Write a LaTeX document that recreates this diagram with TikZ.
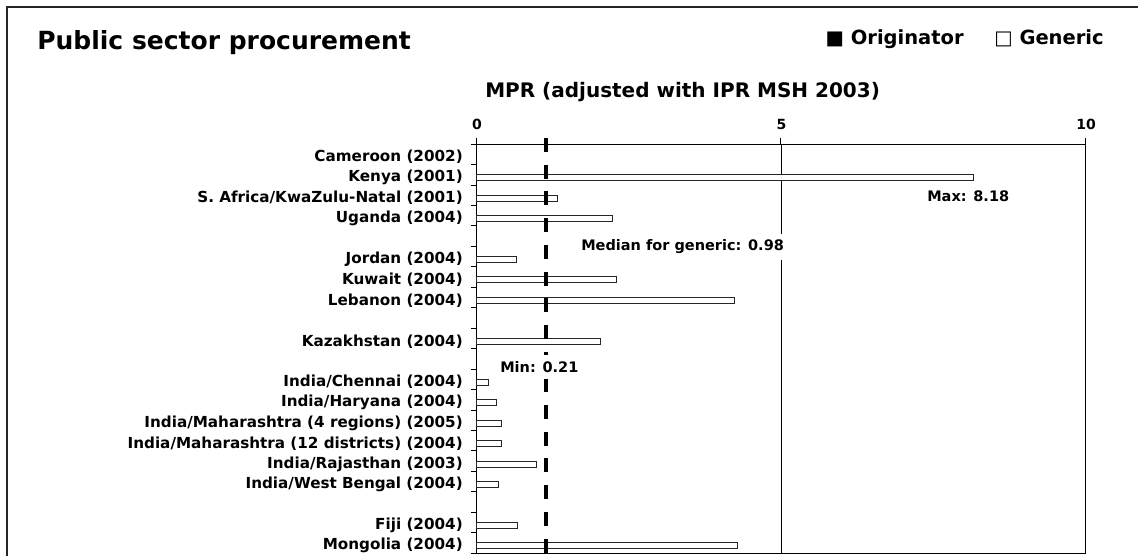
\documentclass[tikz,border=0pt]{standalone}
\usepackage{fontspec}
\setmainfont{DejaVu Sans}
\usetikzlibrary{positioning}

\begin{document}
\begin{tikzpicture}[
  x = 1pt, y = -1pt,           % one unit per pixel, y going down
  font = \bfseries,            % all text is bold
  semithick
  ]

  \tikzstyle{cat}=[      % Defines style for the country labels
  anchor = east,
  inner sep = 0pt,
  font = \fontsize{15.2}{16}\selectfont\bfseries
  ]

  \tikzstyle{bar}=[      % Defines style for a generic bar
  draw = black!85,
  fill = white,
  line width = 0.9pt
  ]

  \tikzstyle{note}=[     % Defines style for the notes on the plot
  anchor = west,
  fill = white,
  inner xsep = 1pt,
  inner ysep = 6pt,
  font = \fontsize{14.5}{15}\selectfont\bfseries
  ]

  \useasboundingbox (0,0) rectangle (1138,556);
  \clip (0,0) rectangle (1138,556);

  % Outer frame
  \draw[line width = 1.8pt, black!85] (7,7) rectangle (1170,590);

  % Title and legend
  \node[anchor = base west, inner sep = 0pt, font = \fontsize{25}{27}\selectfont\bfseries] (title) at (37,50) {Public sector procurement};
  \node[anchor = base east, inner sep = 0pt, font = \fontsize{19.5}{21}\selectfont\bfseries] (orig) at (964,45) {■ Originator};
  \node[anchor = base east, inner sep = 0pt, font = \fontsize{19.5}{21}\selectfont\bfseries] (gen) at (1104,45) {□ Generic};

  % Axis title and tick labels
  \node[anchor = base west, inner sep = 0pt, font = \fontsize{20}{21}\selectfont\bfseries] (axis) at (485,98) {MPR (adjusted with IPR MSH 2003)};
  \foreach \v in {0, 5, 10}
    \node[font = \fontsize{14}{15}\selectfont\bfseries] (t\v) at ({477+60.9*\v},124) {\v};

  % Plot area, grid line and ticks
  \draw (476,144) rectangle (1085,553);
  \draw (781,144) -- (781,553);
  \foreach \v in {0, 5, 10}
    \draw ({476+60.9*\v},138) -- ({476+60.9*\v},144);
  \foreach \k in {0,...,20}
    \draw (471,{144+20.45*\k}) -- (476,{144+20.45*\k});

  % Bars and country labels: slot/value/label
  \foreach \s/\v/\lab in {
    0/0/Cameroon (2002),
    1/8.16/Kenya (2001),
    2/1.33/{S. Africa/KwaZulu-Natal (2001)},
    3/2.24/Uganda (2004),
    5/0.66/Jordan (2004),
    6/2.31/Kuwait (2004),
    7/4.25/Lebanon (2004),
    9/2.05/Kazakhstan (2004),
    11/0.21/{India/Chennai (2004)},
    12/0.33/{India/Haryana (2004)},
    13/0.41/{India/Maharashtra (4 regions) (2005)},
    14/0.41/{India/Maharashtra (12 districts) (2004)},
    15/0.99/{India/Rajasthan (2003)},
    16/0.37/{India/West Bengal (2004)},
    18/0.68/Fiji (2004),
    19/4.29/Mongolia (2004)}
  {
    \node[cat] (c\s) at (463,{144+20.45*(\s+0.5)+3}) {\lab};
    \ifdim \v pt > 0pt
      \draw[bar] (476,{144+20.45*(\s+0.5)}) rectangle ({476+60.9*\v},{144+20.45*(\s+0.5)+6});
    \fi
  }

  % Median line and notes
  \draw[line width = 3.5pt, dash pattern = on 14pt off 12.7pt] (546,138) -- (546,553);
  \node[note] (median) at (580,247) {Median for generic: 0.98};
  \node[note] (minlab) at (499,367) {Min: 0.21};
  \node[note, fill = none] (maxlab) at (926,196) {Max: 8.18};
\end{tikzpicture}
\end{document}
